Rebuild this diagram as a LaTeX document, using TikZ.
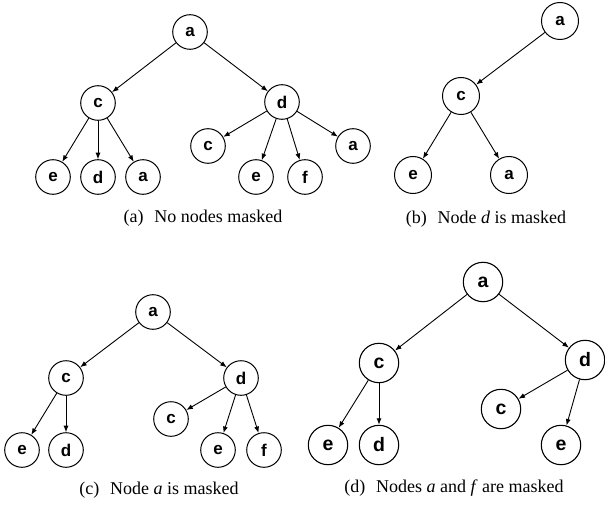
\documentclass[tikz,border=0pt]{standalone}
\usepackage{fontspec}
\setmainfont{Liberation Serif}
\newfontfamily\nodefont{Liberation Sans}
\usetikzlibrary{arrows.meta}
\begin{document}
\begin{tikzpicture}[x=1pt,y=-1pt,
  tn/.style={circle, draw, line width=1pt, minimum size=34.6pt, inner sep=0pt,
    font=\nodefont\bfseries\fontsize{17}{17}\selectfont},
  tnb/.style={tn, minimum size=37pt},
  tnd/.style={tn, line width=1.1pt, minimum size=39.4pt, font=\nodefont\bfseries\fontsize{19.5}{19.5}\selectfont},
  ed/.style={-{Latex[length=6.5pt,width=5pt]}, line width=0.9pt},
  captext/.style={inner sep=0pt, font=\fontsize{18}{20}\selectfont}]
\useasboundingbox (0,0) rectangle (605,508);
% (a)
\node[tn] (a1) at (190,32) {a};
\node[tn] (c1) at (98,103) {c};
\node[tn] (d1) at (282,102) {d};
\node[tn] (e1) at (53,177) {e};
\node[tn] (dd1) at (98,177) {d};
\node[tn] (aa1) at (143,177) {a};
\node[tn] (cc1) at (208,146) {c};
\node[tn] (ee1) at (256,177) {e};
\node[tn] (f1) at (305,177) {f};
\node[tn] (ab1) at (353,146) {a};
\foreach \s/\t in {a1/c1,a1/d1,c1/e1,c1/dd1,c1/aa1,d1/cc1,d1/ee1,d1/f1,d1/ab1}
  \draw[ed] (\s) -- (\t);
\node[captext] (capa) at (203,218) {(a)\hspace{0.6em}No nodes masked};
% (b)
\node[tnb] (a2) at (560,21) {a};
\node[tnb] (c2) at (461,96) {c};
\node[tnb] (e2) at (413,175) {e};
\node[tnb] (aa2) at (509,175) {a};
\foreach \s/\t in {a2/c2,c2/e2,c2/aa2}
  \draw[ed] (\s) -- (\t);
\node[captext] (capb) at (486,219) {(b)\hspace{0.6em}Node \textit{d} is masked};
% (c)
\node[tn] (a3) at (153,312) {a};
\node[tn] (c3) at (66,378) {c};
\node[tn] (d3) at (241,378) {d};
\node[tn] (e3) at (22,450) {e};
\node[tn] (dd3) at (66,450) {d};
\node[tn] (cc3) at (171,419) {c};
\node[tn] (ee3) at (218,450) {e};
\node[tn] (f3) at (264,450) {f};
\foreach \s/\t in {a3/c3,a3/d3,c3/e3,c3/dd3,d3/cc3,d3/ee3,d3/f3}
  \draw[ed] (\s) -- (\t);
\node[captext] (capc) at (159,490) {(c)\hspace{0.6em}Node \textit{a} is masked};
% (d)
\node[tnd] (a4) at (483,282) {a};
\node[tnd] (c4) at (379,363) {c};
\node[tnd] (d4) at (585,360) {d};
\node[tnd] (e4) at (328,445) {e};
\node[tnd] (dd4) at (379,445) {d};
\node[tnd] (cc4) at (501,409) {c};
\node[tnd] (ee4) at (561,445) {e};
\foreach \s/\t in {a4/c4,a4/d4,c4/e4,c4/dd4,d4/cc4,d4/ee4}
  \draw[ed] (\s) -- (\t);
\node[captext] (capd) at (454,488) {(d)\hspace{0.6em}Nodes \textit{a} and \textit{f} are masked};
\end{tikzpicture}
\end{document}
